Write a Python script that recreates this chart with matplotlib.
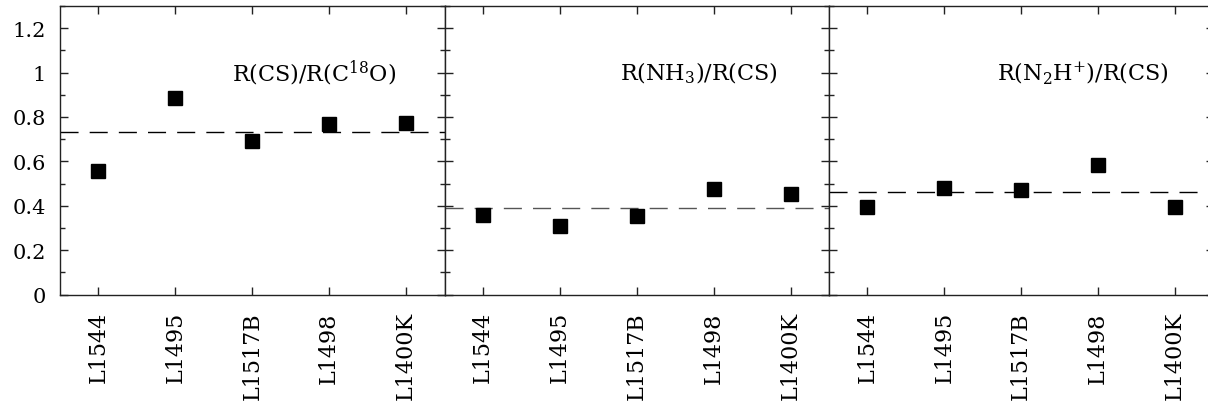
import matplotlib
matplotlib.use("Agg")
import matplotlib.pyplot as plt
from matplotlib.ticker import MultipleLocator, FixedLocator, NullFormatter

sources = ["L1544", "L1495", "L1517B", "L1498", "L1400K"]
cs_c18o = [0.557, 0.886, 0.690, 0.768, 0.773]
nh3_cs = [0.359, 0.308, 0.353, 0.475, 0.452]
n2h_cs = [0.396, 0.479, 0.470, 0.583, 0.394]
means = [0.732, 0.390, 0.463]
titles = [r"R(CS)/R(C$^{18}$O)", r"R(NH$_3$)/R(CS)", r"R(N$_2$H$^{+}$)/R(CS)"]
title_x = [0.875, 0.867, 0.883]
series = [cs_c18o, nh3_cs, n2h_cs]
line_colors = ["black", "#555555", "black"]

plt.rcParams["font.family"] = ["DejaVu Serif"]
plt.rcParams["mathtext.fontset"] = "dejavuserif"

W, H = 1208, 410
fig = plt.figure(figsize=(W / 100, H / 100), dpi=100)
left_px, width_px = 60, 384.5
bottom = (H - 295.5) / H
height = (295.5 - 7) / H
xpos = [i + 0.5 for i in range(len(sources))]

for k in range(3):
    ax = fig.add_axes([(left_px + k * width_px) / W, bottom, width_px / W, height])
    ax.plot(xpos, series[k], linestyle="none", marker="s", markersize=10.5,
            color="black", zorder=3)
    ax.axhline(means[k], color=line_colors[k], linewidth=1.0,
               dashes=(13, 8), zorder=2)
    ax.set_xlim(0, len(sources))
    ax.set_ylim(0, 1.3)
    ax.xaxis.set_major_locator(FixedLocator(xpos))
    ax.set_xticklabels(sources, rotation=90, fontsize=16)
    ax.yaxis.set_major_locator(MultipleLocator(0.2))
    ax.yaxis.set_minor_locator(MultipleLocator(0.1))
    ax.yaxis.set_major_formatter(plt.FuncFormatter(lambda v, p: ("%g" % round(v, 2))))
    if k > 0:
        ax.yaxis.set_major_formatter(NullFormatter())
    ax.tick_params(axis="both", which="both", direction="in",
                   top=True, right=True, width=1.0, color="#222222")
    ax.tick_params(axis="both", which="major", length=6)
    ax.tick_params(axis="both", which="minor", length=3.5)
    ax.tick_params(axis="y", labelsize=15, pad=10)
    ax.tick_params(axis="x", pad=12)
    for s in ax.spines.values():
        s.set_linewidth(1.0)
        s.set_color("#222222")
    ax.text(title_x[k], 1.0 / 1.3, titles[k], transform=ax.transAxes,
            ha="right", va="center", fontsize=16)

fig.savefig("out.png", dpi=100)
